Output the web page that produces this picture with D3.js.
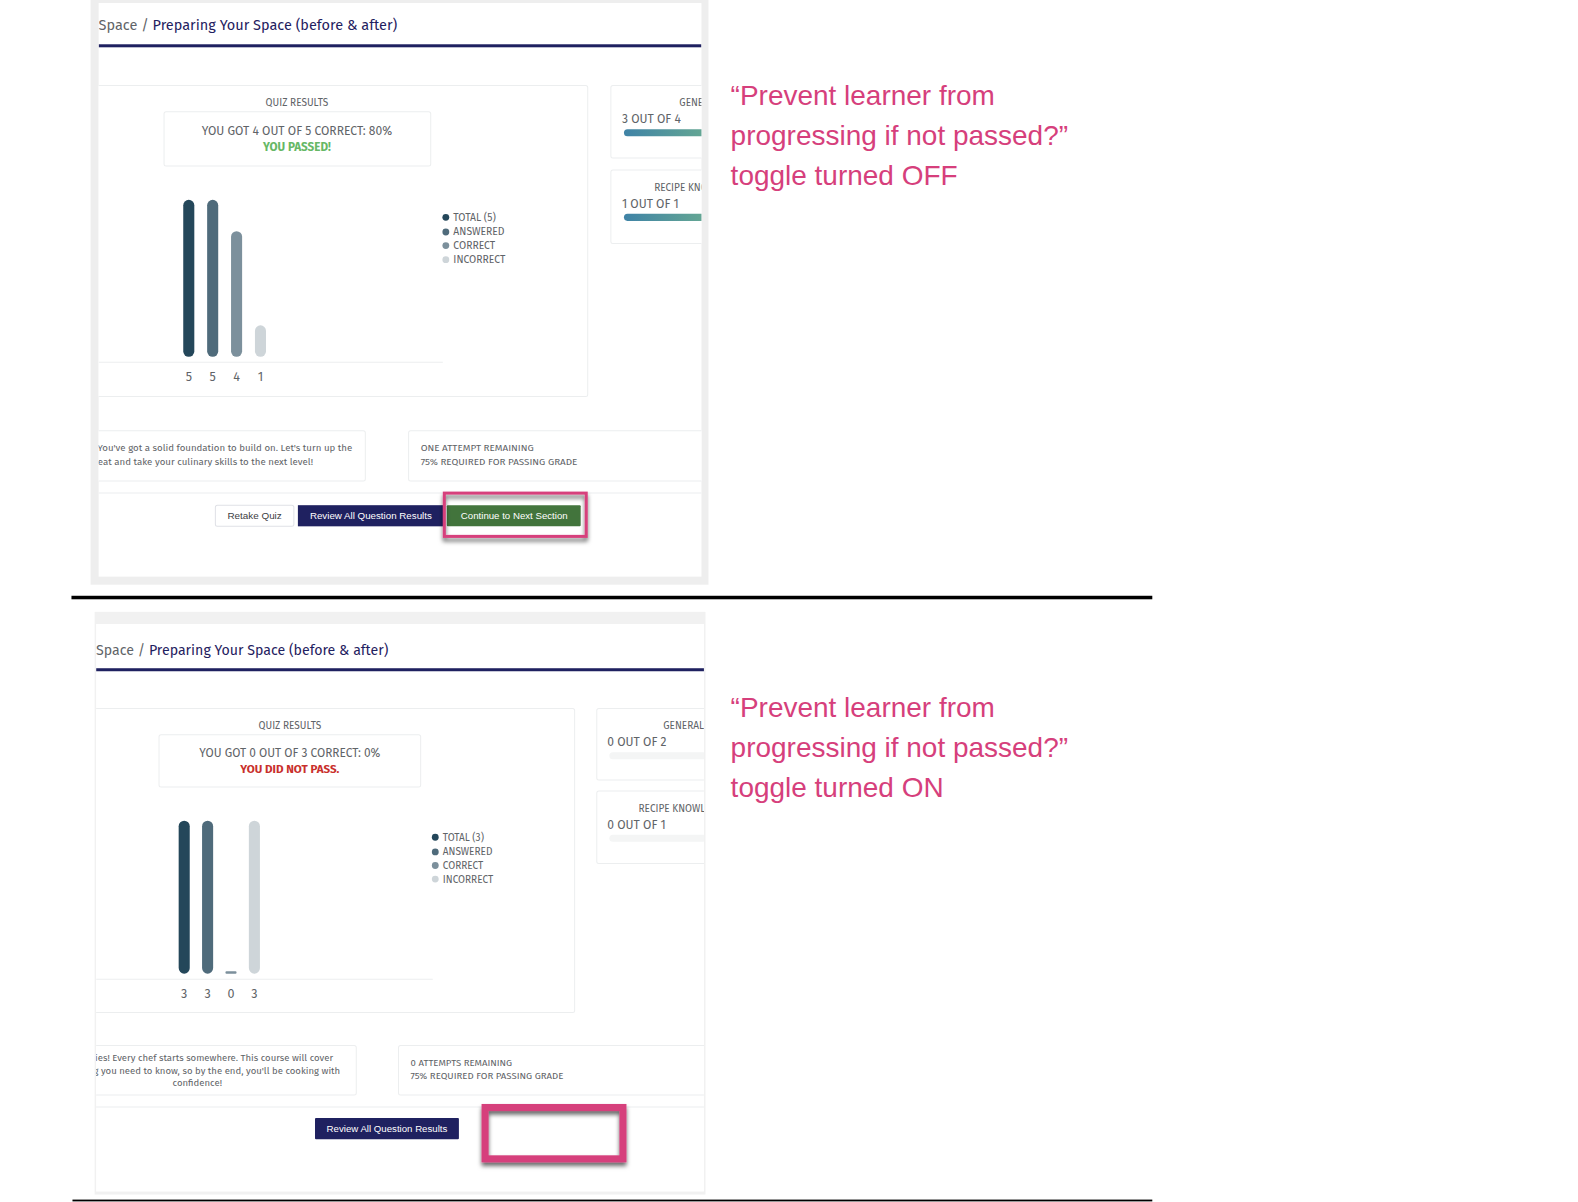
<!DOCTYPE html>
<html>
<head>
<meta charset="utf-8">
<script src="https://cdn.jsdelivr.net/npm/d3@7"></script>
<style>
  html, body { margin: 0; padding: 0; background: #fff; }
  svg { display: block; }
  text { font-family: "Fira Sans", Lato, "Noto Sans", sans-serif; }
</style>
</head>
<body>
<svg id="chart" width="1578" height="1202" viewBox="0 0 1568 1194.4"></svg>
<script>
var categories = ["TOTAL", "ANSWERED", "CORRECT", "INCORRECT"];
var offValues = [5, 5, 4, 1];
var onValues = [3, 3, 0, 3];
var barColors = ["#24475a", "#4f6b7b", "#7c909c", "#ced5d9"];

var offNotes = ["\u201cPrevent learner from", "progressing if not passed?\u201d", "toggle turned OFF"];
var onNotes = ["\u201cPrevent learner from", "progressing if not passed?\u201d", "toggle turned ON"];
var offMessage = ["You've got a solid foundation to build on. Let's turn up the", "heat and take your culinary skills to the next level!"];
var onMessage = ["No worries! Every chef starts somewhere. This course will cover", "everything you need to know, so by the end, you'll be cooking with", "confidence!"];

var navy = "#1f2160", pink = "#d63f7c", grey = "#5f6468", line = "#eceeef";
var svg = d3.select("#chart");
var defs = svg.append("defs");

var grad = defs.append("linearGradient").attr("id", "good");
grad.append("stop").attr("offset", "0%").attr("stop-color", "#3f83a6");
grad.append("stop").attr("offset", "100%").attr("stop-color", "#78b98a");
var blur = defs.append("filter").attr("id", "shadow")
  .attr("x", "-10%").attr("y", "-20%").attr("width", "120%").attr("height", "150%");
blur.append("feDropShadow").attr("dx", 0).attr("dy", 3.5).attr("stdDeviation", 2)
  .attr("flood-color", "#000").attr("flood-opacity", 0.6);

function label(g, x, y, str, size, fill, anchor, weight) {
  return g.append("text").attr("x", x).attr("y", y).text(str)
    .attr("font-size", size).attr("fill", fill)
    .attr("text-anchor", anchor || "start")
    .attr("font-weight", weight || 400);
}

function box(g, x, y, w, h, stroke) {
  return g.append("rect").attr("x", x).attr("y", y).attr("width", w).attr("height", h)
    .attr("rx", 2).attr("fill", "#fff").attr("stroke", stroke || line);
}

function quizBars(g, values, c) {
  var y = d3.scaleLinear().domain([0, c.maxValue]).range([c.base, c.top]);
  var x = d3.scaleBand().domain(d3.range(values.length)).range(c.bandRange);
  g.append("g").selectAll("rect")
    .data(values)
    .enter()
    .append("rect")
    .attr("x", (d, i) => x(i) + x.bandwidth() / 2 - 5.5)
    .attr("y", d => d ? y(d) : c.base - 2.5)
    .attr("width", 11)
    .attr("height", d => d ? c.base - y(d) : 2.5)
    .attr("rx", d => d ? 5.5 : 1)
    .attr("fill", (d, i) => barColors[i]);

  // the value labels are the axis ticks
  var axis = d3.axisBottom(x).tickSize(0).tickPadding(9.5).tickFormat(i => values[i]);
  var ag = g.append("g").attr("transform", `translate(0,${c.axisY})`).call(axis);
  ag.select(".domain").remove();
  ag.selectAll("text").attr("font-size", 12.5).attr("fill", grey)
    .style("font-family", "\"Fira Sans\", Lato, \"Noto Sans\", sans-serif");
  g.append("line").attr("x1", c.left).attr("x2", c.axisEnd)
    .attr("y1", c.axisY).attr("y2", c.axisY).attr("stroke", line);
}

function legend(g, total, x, ys, size) {
  categories.forEach(function(name, i) {
    g.append("circle").attr("cx", x).attr("cy", ys[i]).attr("r", 3.4).attr("fill", barColors[i]);
    label(g, x + 7.5, ys[i] + 3.5, i == 0 ? name + " (" + total + ")" : name, size, grey);
  });
}

function sideCard(g, x, y, w, h, title, titleX, score, scoreX, fill) {
  box(g, x, y, w, h);
  label(g, titleX, y + 20.5, title, 10, grey);
  label(g, scoreX, y + 37.5, score, 12, grey);
  g.append("rect").attr("x", scoreX + 2).attr("y", y + 43.5).attr("width", 120).attr("height", 7)
    .attr("rx", 3.5).attr("fill", fill);
}

// ---- top panel, toggle off
svg.append("rect").attr("x", 90).attr("y", 0).attr("width", 614).attr("height", 581).attr("fill", "#eeeeee");
svg.append("rect").attr("x", 98).attr("y", 3).attr("width", 599).attr("height", 570).attr("fill", "#fff");
defs.append("clipPath").attr("id", "clipOff").append("rect")
  .attr("x", 98).attr("y", 3).attr("width", 599).attr("height", 570);
var top1 = svg.append("g").attr("clip-path", "url(#clipOff)");

var t1 = label(top1, 98, 30, "Space / ", 14.4, grey);
t1.append("tspan").attr("fill", navy).text("Preparing Your Space (before & after)");
top1.append("rect").attr("x", 98).attr("y", 44).attr("width", 599).attr("height", 3).attr("fill", navy);

box(top1, 60, 85, 524, 309);
label(top1, 295, 105, "QUIZ RESULTS", 10, grey, "middle");
box(top1, 163, 111, 265, 54);
label(top1, 295, 134, "YOU GOT 4 OUT OF 5 CORRECT: 80%", 12, grey, "middle");
label(top1, 295, 150, "YOU PASSED!", 11.6, "#66b866", "middle", 700);
quizBars(top1, offValues, { maxValue: 5, base: 354.5, top: 198.5, bandRange: [175.7, 270.7], axisY: 360, left: 98, axisEnd: 440 });
legend(top1, offValues[0], 443, [216, 230.5, 244, 258], 10.3);
sideCard(top1, 607, 85, 130, 72, "GENERAL", 675, "3 OUT OF 4", 618, "url(#good)");
sideCard(top1, 607, 169, 130, 73, "RECIPE KNOW", 650, "1 OUT OF 1", 618, "url(#good)");

box(top1, 60, 428, 303, 50);
label(top1, 350, 448, offMessage[0], 9.6, grey, "end");
label(top1, 311, 462, offMessage[1], 9.6, grey, "end");
box(top1, 406, 428, 310, 50);
label(top1, 418, 448, "ONE ATTEMPT REMAINING", 9.8, grey);
label(top1, 418, 462, "75% REQUIRED FOR PASSING GRADE", 9.8, grey);
top1.append("line").attr("x1", 98).attr("x2", 697).attr("y1", 490).attr("y2", 490).attr("stroke", line);

box(top1, 214, 502, 78, 21, "#dfe1e6");
label(top1, 253, 516, "Retake Quiz", 9.8, "#3d4043", "middle").style("font-family", "'Liberation Sans'");
top1.append("rect").attr("x", 296).attr("y", 502).attr("width", 146).attr("height", 21).attr("fill", navy);
label(top1, 368.5, 516, "Review All Question Results", 9.7, "#fff", "middle").style("font-family", "'Liberation Sans'");
top1.append("rect").attr("x", 444).attr("y", 502).attr("width", 133).attr("height", 21).attr("rx", 1).attr("fill", "#42743c");
label(top1, 511, 516, "Continue to Next Section", 9.6, "#fff", "middle").style("font-family", "'Liberation Sans'");
svg.append("rect").attr("x", 441.5).attr("y", 490).attr("width", 141).attr("height", 43)
  .attr("fill", "none").attr("stroke", pink).attr("stroke-width", 3).attr("filter", "url(#shadow)");

// ---- bottom panel, toggle on
svg.append("rect").attr("x", 94).attr("y", 608).attr("width", 607).attr("height", 579).attr("fill", "#f1f1f1");
svg.append("rect").attr("x", 95.5).attr("y", 620).attr("width", 604).attr("height", 564).attr("fill", "#fff");
defs.append("clipPath").attr("id", "clipOn").append("rect")
  .attr("x", 95.5).attr("y", 620).attr("width", 604).attr("height", 564);
var top2 = svg.append("g").attr("clip-path", "url(#clipOn)");

var t2 = label(top2, 95.5, 650.5, "Space / ", 14.1, grey);
t2.append("tspan").attr("fill", navy).text("Preparing Your Space (before & after)");
top2.append("rect").attr("x", 95.5).attr("y", 664).attr("width", 604).attr("height", 3).attr("fill", navy);

box(top2, 60, 704, 511, 302);
label(top2, 288, 724, "QUIZ RESULTS", 10, grey, "middle");
box(top2, 158, 730, 260, 52);
label(top2, 288, 752, "YOU GOT 0 OUT OF 3 CORRECT: 0%", 11.8, grey, "middle");
label(top2, 288, 768, "YOU DID NOT PASS.", 11.5, "#c9302c", "middle", 700);
quizBars(top2, onValues, { maxValue: 3, base: 967.5, top: 815.5, bandRange: [171.4, 264.4], axisY: 973, left: 95.5, axisEnd: 430 });
legend(top2, onValues[0], 432.5, [832, 846.5, 860, 873.5], 10);
sideCard(top2, 593, 704, 130, 71, "GENERAL", 659, "0 OUT OF 2", 603.5, "#f4f5f5");
sideCard(top2, 593, 786, 130, 72, "RECIPE KNOWLE", 634.5, "0 OUT OF 1", 603.5, "#f4f5f5");

box(top2, 60, 1039, 294, 49);
label(top2, 331, 1054, onMessage[0], 9.5, grey, "end");
label(top2, 338, 1067, onMessage[1], 9.5, grey, "end");
label(top2, 196, 1079, onMessage[2], 9.5, grey, "middle");
box(top2, 396, 1039, 320, 49);
label(top2, 408, 1059, "0 ATTEMPTS REMAINING", 9.5, grey);
label(top2, 408, 1072, "75% REQUIRED FOR PASSING GRADE", 9.55, grey);
top2.append("line").attr("x1", 95).attr("x2", 700).attr("y1", 1100).attr("y2", 1100).attr("stroke", line);

top2.append("rect").attr("x", 313).attr("y", 1111).attr("width", 143).attr("height", 21).attr("rx", 1).attr("fill", navy);
label(top2, 384.5, 1125, "Review All Question Results", 9.6, "#fff", "middle").style("font-family", "'Liberation Sans'");
svg.append("rect").attr("x", 482).attr("y", 1100.5).attr("width", 137).attr("height", 51)
  .attr("fill", "none").attr("stroke", pink).attr("stroke-width", 7).attr("filter", "url(#shadow)");

// ---- annotations and dividers
function notes(lines, ys) {
  lines.forEach(function(str, i) {
    label(svg, 726, ys[i], str, 27.8, pink).style("font-family", "'Liberation Sans'");
  });
}
notes(offNotes, [104, 144, 184]);
notes(onNotes, [712, 752, 792]);

svg.append("rect").attr("x", 71).attr("y", 592).attr("width", 1074).attr("height", 3.5).attr("fill", "#000");
svg.append("rect").attr("x", 72).attr("y", 1192).attr("width", 1073).attr("height", 1.8).attr("fill", "#000");
</script>
</body>
</html>
